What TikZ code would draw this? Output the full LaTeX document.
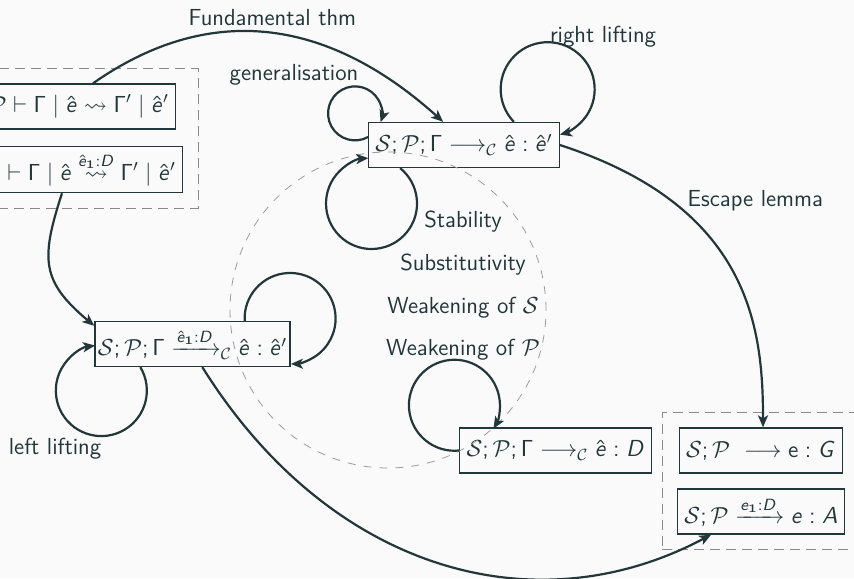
\documentclass[tikz,border=0pt]{standalone}
\usepackage{fix-cm}
\usepackage{amsmath,amssymb}
\usetikzlibrary{arrows.meta,positioning,fit,calc}
\renewcommand{\familydefault}{\sfdefault}
\DeclareMathVersion{sans}
\SetSymbolFont{operators}{sans}{OT1}{cmss}{m}{n}
\SetSymbolFont{letters}{sans}{OT1}{cmss}{m}{it}
\definecolor{mdark}{HTML}{23373B}
\definecolor{mbg}{HTML}{FAFAFA}
\definecolor{mgrey}{HTML}{8A8A8A}
\newcommand{\eh}{\hat{e}}
\newcommand{\scon}{\mathcal{S};\mathcal{P}}

\begin{document}
\begin{tikzpicture}[
	x=0.5pt, y=0.5pt,
	font=\fontsize{11.6}{14}\selectfont\mathversion{sans},
	color=mdark,
	judg/.style={draw, line width=.65pt, minimum height=22.5pt},
	group/.style={draw=mgrey, line width=.5pt, dash pattern=on 5pt off 3pt, inner sep=7.5pt},
	arr/.style={-{Stealth[length=6pt,width=5pt,inset=1.5pt]}, line width=1.1pt},
	prop/.style={text height=1.6ex, text depth=.3ex, inner sep=0pt},
	node distance=12.5pt]

\path[use as bounding box, fill=mbg] (0,0) rectangle (854,578);

\node[judg, anchor=east] (alg) at (176,471.5) {$\scon\vdash\Gamma\mid\eh\leadsto\Gamma'\mid\eh'$};
\node[judg, anchor=east] (algD) at (183,408.5) {$\scon\vdash\Gamma\mid\eh\overset{\eh_{\mathbf{1}}:D}{\leadsto}\Gamma'\mid\eh'$};
\node[judg] (red) at (464,433) {$\scon;\Gamma\longrightarrow_{\mathcal{C}}\eh:\eh'$};
\node[judg, inner xsep=1.5pt] (redD) at (192.5,234) {$\scon;\Gamma\xrightarrow{\eh_{\mathbf{1}}:D}_{\mathcal{C}}\eh:\eh'$};
\node[judg] (typ) at (555.5,127.5) {$\scon;\Gamma\longrightarrow_{\mathcal{C}}\eh:D$};
\node[judg] (esc) at (761,127.5) {$\scon\ \longrightarrow\mathrm{e}:G$};
\node[judg] (escD) at (761,66.5) {$\scon\xrightarrow{e_{\mathbf{1}}:D}e:A$};

\node[group, fit=(alg)(algD)] (lgroup) {};
\node[group, fit=(esc)(escD)] (rgroup) {};

\coordinate (hub) at (388,268);
\draw[mgrey!85, line width=.4pt, dash pattern=on 4pt off 4pt] (hub) circle[radius=79pt];

\node[prop] (stab) at (463,356) {Stability};
\node[prop, below=of stab] (subst) {Substitutivity};
\node[prop, below=of subst] (weakS) {Weakening of $\mathcal{S}$};
\node[prop, below=of weakS] (weakP) {Weakening of $\mathcal{P}$};

\node (lblgen) at (294,503) {generalisation};
\node (lblright) at (603,541) {right lifting};
\node (lblleft) at (55,129) {left lifting};

\draw[arr] ($(alg.north east)+(-83,0)$) to[out=35,in=138,looseness=1.08] node[pos=.5,above] (lblfund) {Fundamental thm} ($(red.north west)+(75,0)$);
\draw[arr] ($(algD.south east)+(-121,0)$) to[out=-108,in=140,looseness=1.3] ($(redD.north west)+(0,-5)$);
\draw[arr] (red.east) to[out=-18,in=90,out distance=100pt,in distance=50pt] node[pos=.25,right,xshift=4pt] (lblesc) {Escape lemma} ($(esc.north)+(2,0)$);
\draw[arr] ($(redD.south west)+(108,0)$) to[out=-58,in=208,out distance=120pt,in distance=100pt] ($(escD.south west)+(34,0)$);

\draw[arr] ($(red.west)+(0,8)$) arc[start angle=-61, delta angle=-318, radius=13.5pt];
\draw[arr] ($(red.north east)+(-46,0)$) arc[start angle=-136, delta angle=-299, radius=23.5pt];
\draw[arr] ($(red.south west)+(32,0)$) arc[start angle=51, delta angle=-317, radius=22.75pt];
\draw[arr] ($(redD.north east)+(-46,0)$) arc[start angle=183, delta angle=-272, radius=22.75pt];
\draw[arr] ($(redD.south west)+(46,0)$) arc[start angle=31, delta angle=-293, radius=22.75pt];
\draw[arr] (typ.west) arc[start angle=-84, delta angle=-307, radius=22.75pt];
\end{tikzpicture}
\end{document}
